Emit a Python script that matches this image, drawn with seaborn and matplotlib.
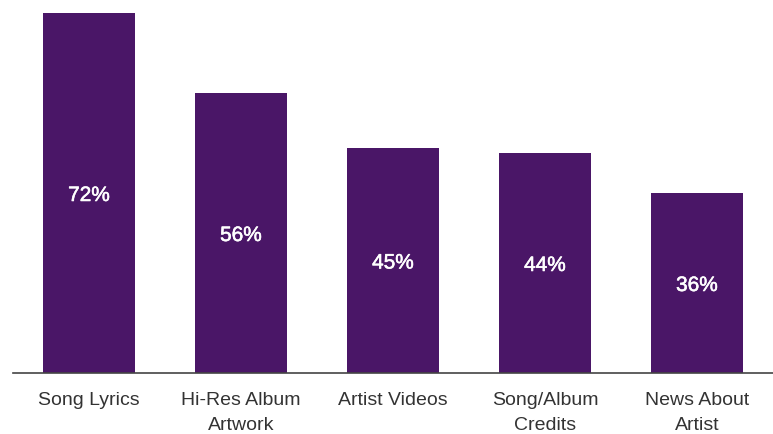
import matplotlib
matplotlib.use("Agg")
import matplotlib.pyplot as plt
import matplotlib.patheffects as pe
import seaborn as sns
import pandas as pd

categories = ["Song Lyrics", "Hi-Res Album\nArtwork", "Artist Videos", "Song/Album\nCredits", "News About\nArtist"]
values = [72, 56, 45, 44, 36]

df = pd.DataFrame({"category": categories, "value": values})

sns.set_style("white")
plt.rcParams["font.family"] = ["Liberation Sans", "DejaVu Sans"]

fig = plt.figure(figsize=(7.73, 4.34), dpi=100)
ax = fig.add_axes([13 / 773, 61 / 434, 760 / 773, 373 / 434])

sns.barplot(data=df, x="category", y="value", color="#4a1667", saturation=1,
            width=0.6, linewidth=0, ax=ax)

for i, v in enumerate(values):
    ax.text(i, v / 2 - 0.5, f"{v}%", color="white", ha="center", va="center",
            fontsize=15,
            path_effects=[pe.withStroke(linewidth=0.4, foreground="white")])

ax.set_xlim(-0.5, 4.5)
ax.set_ylim(0, 74.6)
ax.set_xlabel("")
ax.set_ylabel("")
ax.set_yticks([])
for s in ["top", "left", "right"]:
    ax.spines[s].set_visible(False)
ax.spines["bottom"].set_color("#444444")
ax.spines["bottom"].set_linewidth(1.2)
ax.tick_params(axis="x", length=0, pad=14, labelsize=14, colors="#333333")
for lbl in ax.get_xticklabels():
    lbl.set_linespacing(1.55)

fig.savefig("out.png", dpi=100)
